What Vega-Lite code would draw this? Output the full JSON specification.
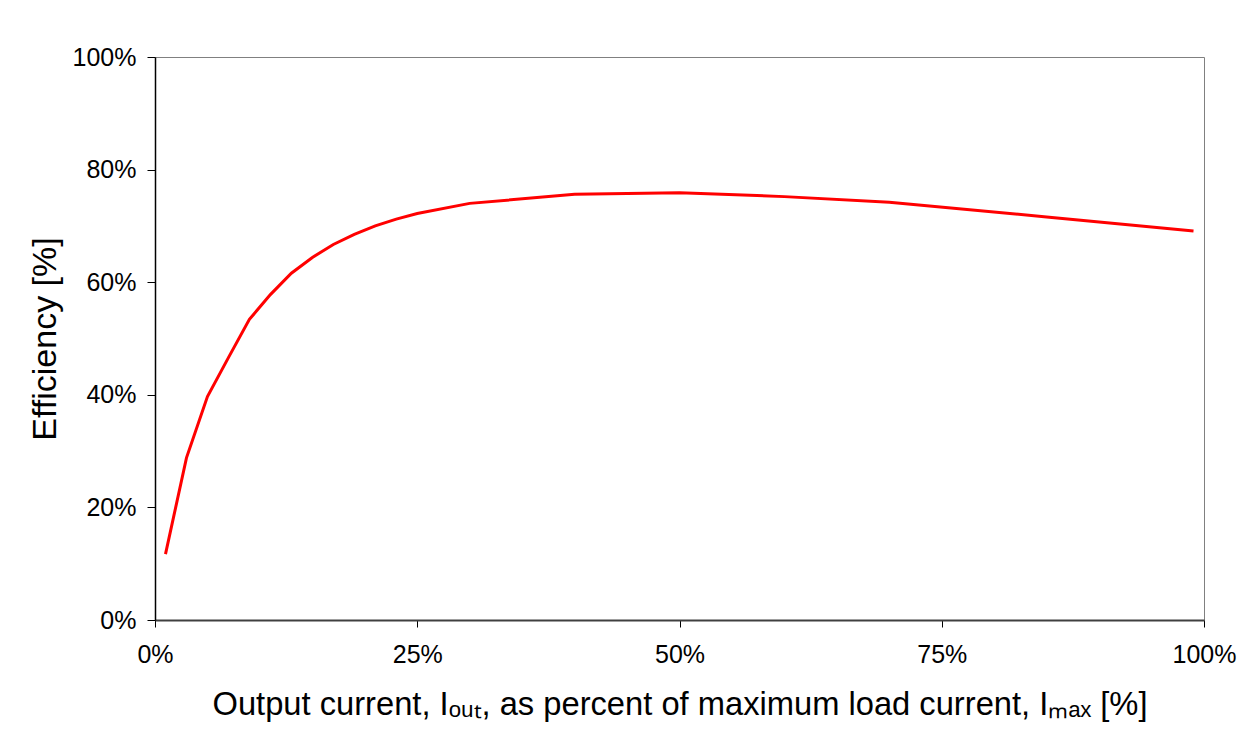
{
  "$schema": "https://vega.github.io/schema/vega-lite/v6.json",
  "autosize": {"type": "none"},
  "width": 1049,
  "height": 563,
  "padding": {"left": 155, "top": 57, "right": 45, "bottom": 112},
  "background": "white",
  "config": {
    "font": "Liberation Sans",
    "view": {"stroke": "#808080", "strokeWidth": 1}
  },
  "data": {
    "values": [
      {"current": 0.01, "efficiency": 0.117},
      {"current": 0.03, "efficiency": 0.288},
      {"current": 0.05, "efficiency": 0.397},
      {"current": 0.07, "efficiency": 0.466},
      {"current": 0.09, "efficiency": 0.534},
      {"current": 0.11, "efficiency": 0.578},
      {"current": 0.13, "efficiency": 0.616},
      {"current": 0.15, "efficiency": 0.644},
      {"current": 0.17, "efficiency": 0.667},
      {"current": 0.19, "efficiency": 0.685},
      {"current": 0.21, "efficiency": 0.700},
      {"current": 0.23, "efficiency": 0.712},
      {"current": 0.25, "efficiency": 0.722},
      {"current": 0.30, "efficiency": 0.740},
      {"current": 0.40, "efficiency": 0.756},
      {"current": 0.50, "efficiency": 0.759},
      {"current": 0.60, "efficiency": 0.752},
      {"current": 0.70, "efficiency": 0.742},
      {"current": 0.85, "efficiency": 0.716},
      {"current": 0.99, "efficiency": 0.691}
    ]
  },
  "mark": {"type": "line", "color": "#FF0000", "strokeWidth": 3, "clip": true},
  "encoding": {
    "x": {
      "field": "current",
      "type": "quantitative",
      "scale": {"domain": [0, 1], "nice": false, "zero": false},
      "axis": {
        "values": [0, 0.25, 0.5, 0.75, 1],
        "format": ".0%",
        "grid": false,
        "domainColor": "#404040",
        "domainWidth": 2,
        "tickColor": "#000000",
        "tickSize": 7,
        "labelFontSize": 25,
        "labelColor": "#000000",
        "labelPadding": 15,
        "labelFlush": false,
        "labelFont": "Liberation Sans",
        "title": "Output current, Iₒᵤₜ, as percent of maximum load current, Iₘₐₓ [%]",
        "titleFont": "Liberation Sans",
        "titleFontSize": 32.7,
        "titleFontWeight": "normal",
        "titleColor": "#000000",
        "titlePadding": 21
      }
    },
    "y": {
      "field": "efficiency",
      "type": "quantitative",
      "scale": {"domain": [0, 1], "nice": false},
      "axis": {
        "values": [0, 0.2, 0.4, 0.6, 0.8, 1],
        "format": ".0%",
        "grid": false,
        "domainColor": "#000000",
        "domainWidth": 1.5,
        "tickColor": "#000000",
        "tickSize": 8,
        "labelFontSize": 25,
        "labelColor": "#000000",
        "labelPadding": 11,
        "labelFont": "Liberation Sans",
        "title": "Efficiency [%]",
        "titleFont": "Liberation Sans",
        "titleFontSize": 34,
        "titleFontWeight": "normal",
        "titleColor": "#000000",
        "titlePadding": 10
      }
    }
  }
}
